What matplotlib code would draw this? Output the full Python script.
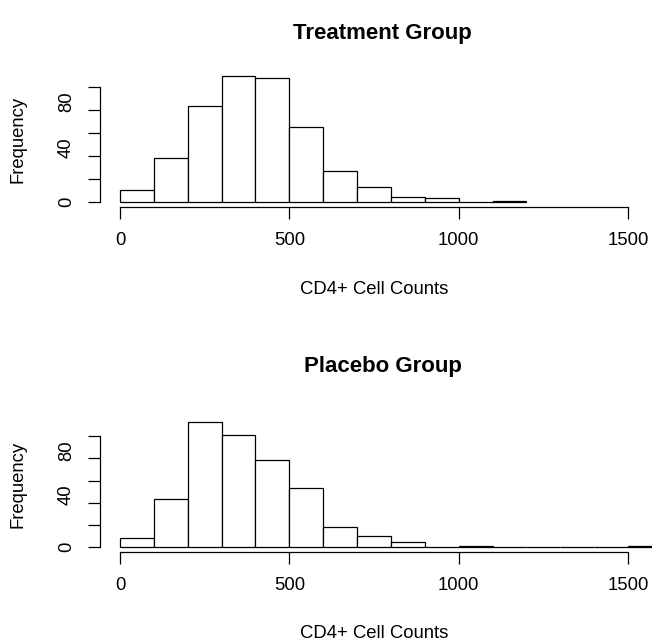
## Histograms of CD4+ cell counts for the treatment and placebo groups (R base-graphics look)

import matplotlib
matplotlib.use('Agg')
import matplotlib.pyplot as plt
import matplotlib.transforms as mtransforms
import numpy as np

## Bin edges and counts
treat_breaks = [0, 100, 200, 300, 400, 500, 600, 700, 800, 900, 1000, 1100, 1200]
treat_counts = [10, 38, 83, 109, 108, 65, 27, 13, 4, 3, 0, 1]

placebo_breaks = [0, 100, 200, 300, 400, 500, 600, 700, 800, 900, 1000, 1100, 1200,
                  1300, 1400, 1500, 1600]
placebo_counts = [8, 43, 113, 101, 79, 53, 18, 10, 4, 0, 1, 0, 0, 0, 0, 1]

x_ticks = [0, 500, 1000, 1500]
y_ticks = [0, 20, 40, 60, 80, 100]
y_labels = ['0', '', '40', '', '80', '']

plt.rcParams['font.family'] = ['Liberation Sans', 'DejaVu Sans']

fig = plt.figure(figsize=(6.52, 6.41), dpi=100)

def draw_hist(ax, breaks, counts, title, title_y):
    breaks = np.array(breaks)
    counts = np.array(counts)
    ## bars (zero-height bins still show as a line on the baseline, like R)
    ax.bar(breaks[:-1], counts, width=np.diff(breaks), align='edge',
           facecolor='white', edgecolor='black', linewidth=0.9, clip_on=False)
    ymax = counts.max()
    ax.set_xlim(-60, 1560)
    ax.set_ylim(-0.04 * ymax, 1.04 * ymax)
    ## R style axes: no box, detached axis lines
    ax.spines['top'].set_visible(False)
    ax.spines['right'].set_visible(False)
    ax.spines['bottom'].set_bounds(0, 1500)
    ax.spines['left'].set_bounds(0, 100)
    for s in ['bottom', 'left']:
        ax.spines[s].set_linewidth(0.9)
    ax.set_xticks(x_ticks)
    ax.set_yticks(y_ticks)
    ax.set_yticklabels(y_labels)
    ax.tick_params(axis='both', direction='out', length=8.8, width=0.9, labelsize=13.3)
    ax.tick_params(axis='x', pad=9.5)
    ax.tick_params(axis='y', pad=9, labelrotation=90)
    ## the rotated 40 / 80 labels sit a little above their ticks in the reference
    shift = mtransforms.ScaledTranslation(0, 0.08, fig.dpi_scale_trans)
    for i, tick in enumerate(ax.yaxis.get_major_ticks()):
        tick.label1.set_va('center')
        if y_labels[i] not in ('', '0'):
            tick.label1.set_transform(tick.label1.get_transform() + shift)
    ax.set_title(title, fontsize=16, fontweight='bold', x=0.516, y=title_y, va='baseline')
    ax.set_xlabel('CD4+ Cell Counts', fontsize=13.3, va='center')
    ax.xaxis.set_label_coords(0.5, -0.608)
    ax.set_ylabel('Frequency', fontsize=13.3, va='center')
    ax.yaxis.set_label_coords(-0.149, 0.5)

## Panel positions in figure fraction
ax1 = fig.add_axes([0.1529, 0.6775, 0.8414, 0.2112])
draw_hist(ax1, treat_breaks, treat_counts, 'Treatment Group', 1.18)

ax2 = fig.add_axes([0.1529, 0.1393, 0.8414, 0.2101])
draw_hist(ax2, placebo_breaks, placebo_counts, 'Placebo Group', 1.27)

fig.savefig('out.png', dpi=100)
